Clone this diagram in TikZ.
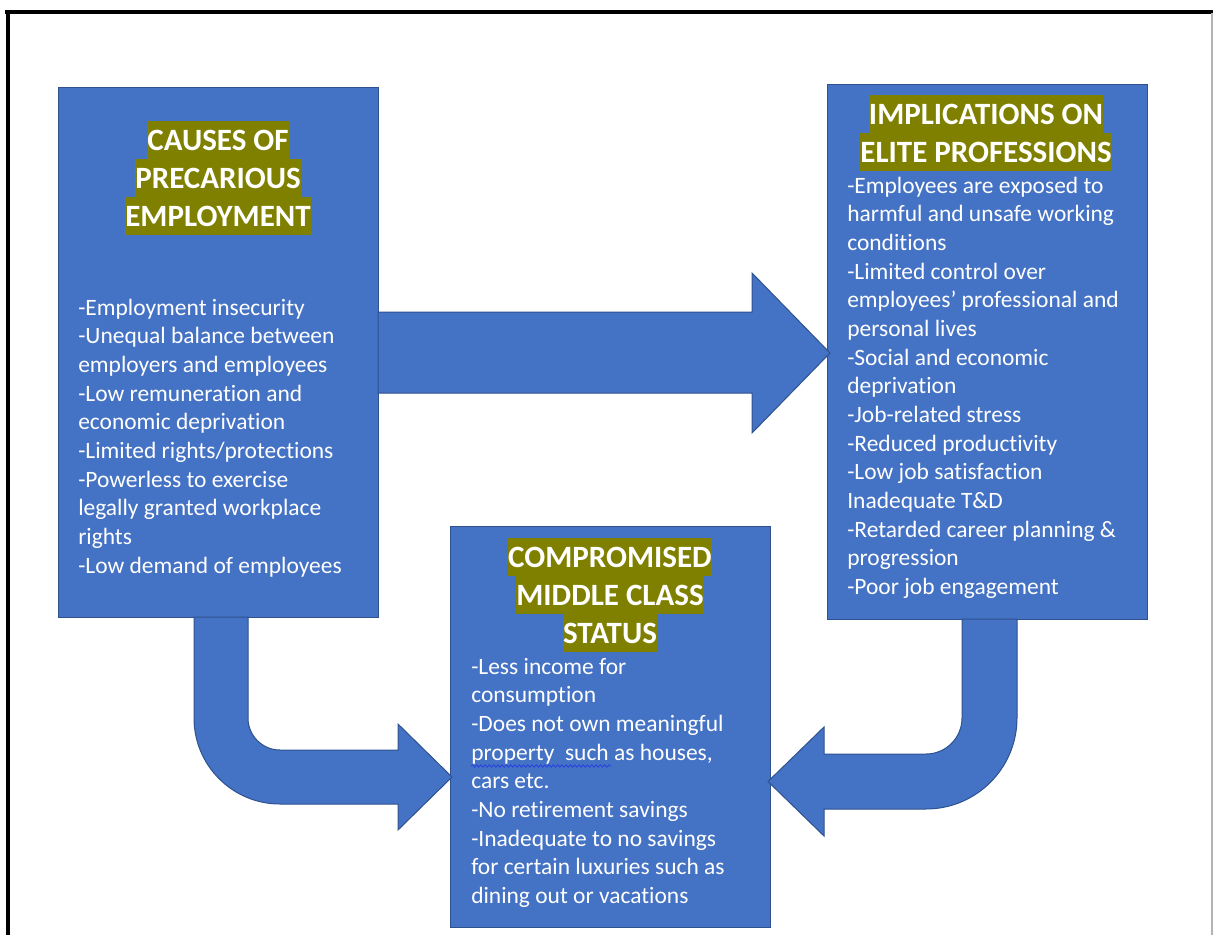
\documentclass[tikz,border=0pt]{standalone}
\usepackage{fontspec}
\setmainfont{Carlito}[Ligatures={NoCommon}]
\usetikzlibrary{calc,decorations.pathmorphing}

\definecolor{boxblue}{HTML}{4472C4}
\definecolor{boxedge}{HTML}{2F528F}
\definecolor{hlolive}{HTML}{808000}
\definecolor{spellblue}{HTML}{2A3FE0}

% font sizes: body text and highlighted headings
\newcommand\bodyfnt{\fontsize{17.6pt}{21.5pt}\selectfont}
\newcommand\headfnt{\fontsize{23.25pt}{28.39pt}\selectfont\bfseries\lineskiplimit=-5pt}
% one highlighted heading line
\newcommand\hlline[1]{{\setlength\fboxsep{0pt}\colorbox{hlolive}{\rule[-0.269em]{0pt}{1.221em}#1}}}
% fixes the height above the first baseline of a text block
\newcommand\firststrut{\rule{0pt}{15pt}}

\tikzset{
  panel/.style={draw=boxedge, fill=boxblue, line width=0.75pt, inner sep=0pt, outer sep=0pt, anchor=north west, minimum width=240pt},
  heading/.style={text=white, font=\headfnt, align=center, inner sep=0pt, anchor=north},
  bodytext/.style={text=white, font=\bodyfnt, align=left, inner sep=0pt, anchor=north west},
  blockarrow/.style={draw=boxedge, fill=boxblue, line width=0.75pt, line join=miter},
  squiggle/.style={draw=spellblue, line width=0.6pt, decorate, decoration={snake, amplitude=0.9pt, segment length=3.2pt}}
}

\begin{document}
\begin{tikzpicture}[x=0.75pt, y=-0.75pt]
\useasboundingbox (0,0) rectangle (1213,935);

% page frame
\draw[line width=2.4pt] (5,12) -- (1213,12);
\draw[line width=2.4pt] (8,12) -- (8,935);
\draw[black!30, line width=0.9pt] (1212,13) -- (1212,935);

% the three panels
\node[panel, minimum height=397.5pt] (causes) at (58,87) {};
\node[panel, minimum height=401.25pt] (impl) at (827,84) {};
\node[panel, minimum height=300.75pt] (status) at (450,526) {};

% straight arrow: causes -> implications
\coordinate (t1) at ($(impl.west |- 0,353)+(3,0)$);
\draw[blockarrow] (causes.east |- 0,312) -- (752,312) -- (752,273) -- (t1)
  -- (752,433) -- (752,393) -- (causes.east |- 0,393) -- cycle;

% bent arrow: causes -> middle class status
\coordinate (t2) at ($(status.west |- 0,777)+(2,0)$);
\draw[blockarrow] (194,0 |- causes.south) -- (248,0 |- causes.south) -- (248,718)
  arc[start angle=180, end angle=90, radius=32] -- (398,750) -- (398,724) -- (t2)
  -- (398,830) -- (398,804) -- (280,804)
  arc[start angle=90, end angle=180, radius=86] -- cycle;

% bent arrow: implications -> middle class status
\coordinate (t3) at ($(status.east |- 0,781.5)+(-2,0)$);
\draw[blockarrow] (1017,0 |- impl.south) -- (962,0 |- impl.south) -- (962,718)
  arc[start angle=0, end angle=90, radius=36] -- (824,754) -- (824,727) -- (t3)
  -- (824,836) -- (824,809) -- (926,809)
  arc[start angle=90, end angle=0, radius=91] -- cycle;

% headings
\node[heading] (causesHead) at (218,121)
  {\hlline{CAUSES OF}\\\hlline{PRECARIOUS}\\\hlline{EMPLOYMENT}};
\node[heading] (implHead) at (986,95)
  {\hlline{IMPLICATIONS ON}\\\hlline{ELITE PROFESSIONS}};
\node[heading] (statusHead) at (610,538)
  {\hlline{COMPROMISED}\\\hlline{MIDDLE CLASS}\\\hlline{STATUS}};

% body texts
\node[bodytext] (causesText) at (78,295) {\firststrut-Employment insecurity\\
-Unequal balance between\\
employers and employees\\
-Low remuneration and\\
economic deprivation\\
-Limited rights/protections\\
-Powerless to exercise\\
legally granted workplace\\
rights\\
-Low demand of employees};

\node[bodytext] (implText) at (847,173) {\firststrut-Employees are exposed to\\
harmful and unsafe working\\
conditions\\
-Limited control over\\
employees’ professional and\\
personal lives\\
-Social and economic\\
deprivation\\
-Job-related stress\\
-Reduced productivity\\
-Low job satisfaction\\
Inadequate T\&D\\
-Retarded career planning \&\\
progression\\
-Poor job engagement};

\node[bodytext] (statusText) at (471,654) {\firststrut-Less income for\\
consumption\\
-Does not own meaningful\\
property\ \ such as houses,\\
cars etc.\\
-No retirement savings\\
-Inadequate to no savings\\
for certain luxuries such as\\
dining out or vacations};

% spelling mark under "property  such"
\draw[squiggle] (471,766) -- (611,766);
\end{tikzpicture}
\end{document}
